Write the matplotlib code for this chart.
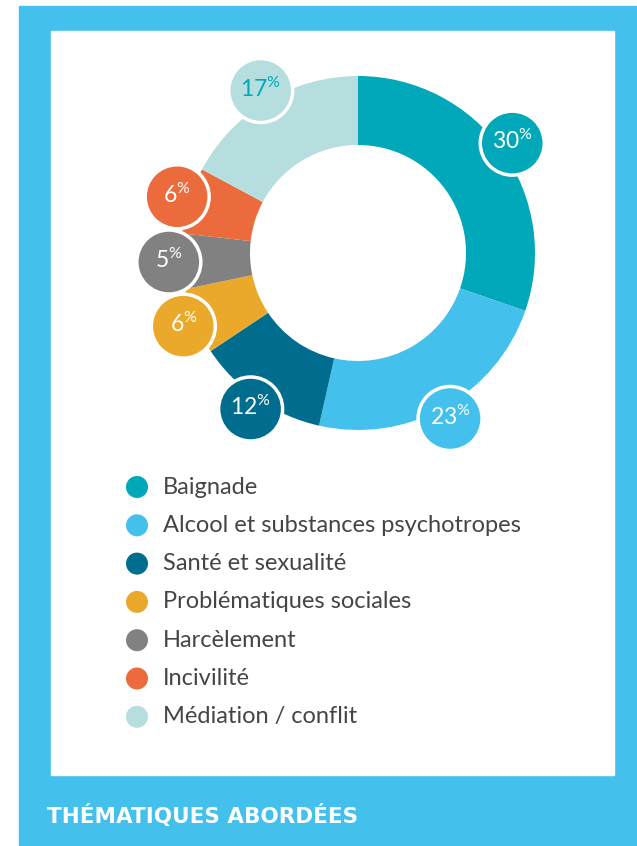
import numpy as np
import matplotlib
matplotlib.use('Agg')
import matplotlib.pyplot as plt
from matplotlib.patches import Rectangle, Circle

categories = ['Baignade', 'Alcool et substances psychotropes', 'Santé et sexualité',
              'Problématiques sociales', 'Harcèlement', 'Incivilité', 'Médiation / conflit']
values = [30, 23, 12, 6, 5, 6, 17]
colors = ['#00A8BA', '#43C0EB', '#006C8E', '#EBA92C', '#818181', '#EC6B3D', '#B6DEDE']
title = 'THÉMATIQUES ABORDÉES'

plt.rcParams['font.family'] = ['Lato', 'DejaVu Sans']

W, H = 637, 846
fig = plt.figure(figsize=(W / 100, H / 100), dpi=100)
ax = fig.add_axes([0, 0, 1, 1])

# frame
ax.add_patch(Rectangle((19, 0), W - 19, H - 6, color='#43C0EB', zorder=0))
ax.add_patch(Rectangle((51, H - 775), 614 - 51, 775 - 31, color='white', zorder=1))

cx, cy, R, r = 358, H - 253, 177, 108
wedges, _ = ax.pie(values, colors=colors, startangle=90, counterclock=False,
                   center=(cx, cy), radius=R, frame=True,
                   wedgeprops=dict(width=R - r, linewidth=0))
for w in wedges:
    w.set_zorder(2)
ax.set_xlim(0, W)
ax.set_ylim(0, H)
ax.set_aspect('equal')
ax.axis('off')

# percentage bubbles
for w, v, c in zip(wedges, values, colors):
    mid = np.deg2rad((w.theta1 + w.theta2) / 2)
    rr = R * 1.07
    x, y = cx + rr * np.cos(mid), cy + rr * np.sin(mid)
    ax.add_patch(Circle((x, y), 32, facecolor=c, edgecolor='white', linewidth=2.5, zorder=3))
    tc = '#00A8BA' if c == '#B6DEDE' else 'white'
    ax.text(x, y + 2, r'$\mathregular{%d^{\%%}}$' % v, ha='center', va='center',
            fontsize=16.5, color=tc, zorder=4)

# legend
for i, (lab, c) in enumerate(zip(categories, colors)):
    y = H - (487 + i * 38.3)
    ax.add_patch(Circle((137, y), 11, color=c, zorder=3, linewidth=0))
    ax.text(163, y, lab, ha='left', va='center', fontsize=17, color='#454545',
            zorder=4)

ax.text(47, H - 816, title, ha='left', va='center', fontsize=15.5, color='white',
        fontweight='bold', family='DejaVu Sans', zorder=4)

fig.savefig('out.png', dpi=100)
